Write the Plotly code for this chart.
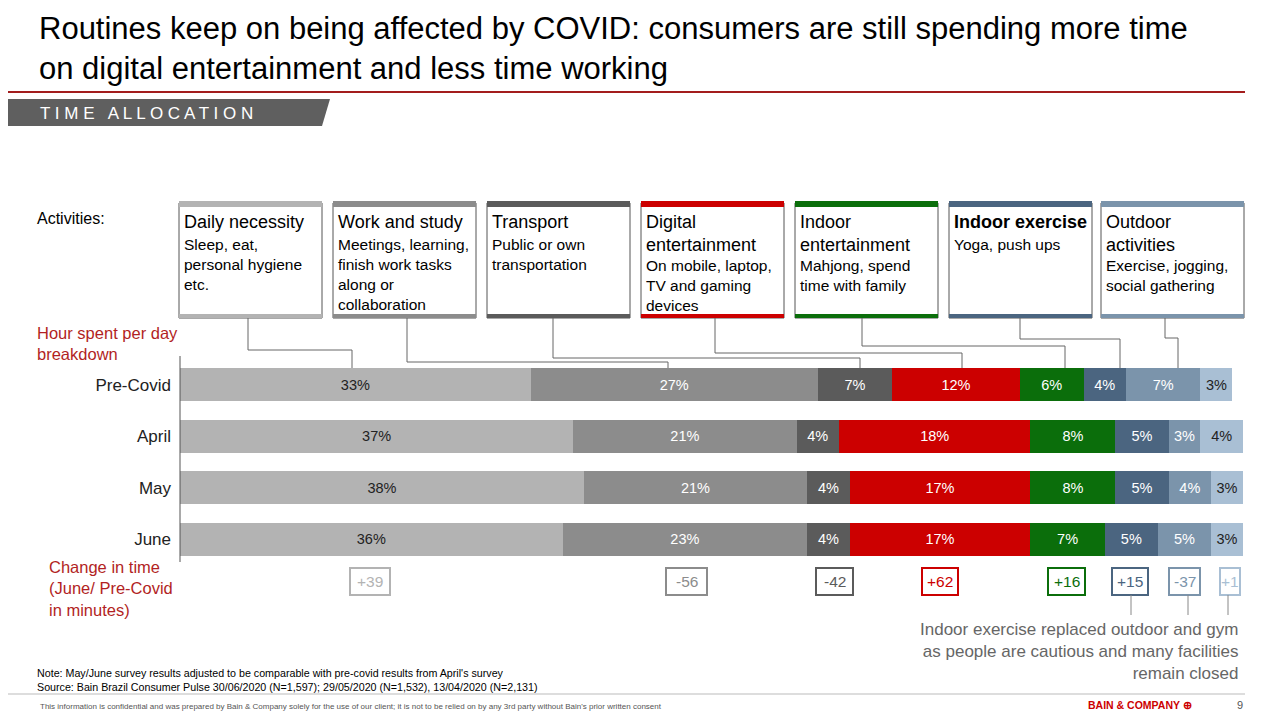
import plotly.graph_objects as go

periods = ["Pre-Covid", "April", "May", "June"]
categories = ["Daily necessity", "Work and study", "Transport", "Digital entertainment",
              "Indoor entertainment", "Indoor exercise", "Outdoor activities", "Other"]
daily_necessity = [33, 37, 38, 36]
work_study = [27, 21, 21, 23]
transport = [7, 4, 4, 4]
digital_ent = [12, 18, 17, 17]
indoor_ent = [6, 8, 8, 7]
indoor_ex = [4, 5, 5, 5]
outdoor = [7, 3, 4, 5]
other = [3, 4, 3, 3]
change_minutes = ["+39", "-56", "-42", "+62", "+16", "+15", "-37", "+1"]

series = [daily_necessity, work_study, transport, digital_ent, indoor_ent, indoor_ex, outdoor, other]
colors = ["#b3b3b3", "#8c8c8c", "#5b5b5b", "#cc0000", "#0b6e0b", "#4b6580", "#7b94ab", "#a9bfd4"]
textcols = ["#222222", "white", "white", "white", "white", "white", "white", "#222222"]

box_titles = ["Daily necessity", "Work and study", "Transport", "Digital<br>entertainment",
              "Indoor<br>entertainment", "<b>Indoor exercise</b>", "Outdoor<br>activities"]
box_subs = ["Sleep, eat,<br>personal hygiene<br>etc.",
            "Meetings, learning,<br>finish work tasks<br>along or<br>collaboration",
            "Public or own<br>transportation",
            "On mobile, laptop,<br>TV and gaming<br>devices",
            "Mahjong, spend<br>time with family",
            "Yoga, push ups",
            "Exercise, jogging,<br>social gathering"]

W, H = 1264, 704
OFF = 8
def X(px): return (px - OFF) / W
def Y(py): return 1 - (py - OFF) / H

FONT = "Liberation Sans, Arial, sans-serif"
fig = go.Figure()
for name, vals, c, tc in zip(categories, series, colors, textcols):
    fig.add_trace(go.Bar(
        y=periods, x=vals, name=name, orientation="h", marker=dict(color=c, line=dict(width=0)),
        text=[f"{v}%" for v in vals], textposition="inside", insidetextanchor="middle",
        textangle=0, textfont=dict(color=tc, size=14.5, family=FONT), width=0.64,
        hoverinfo="skip"))

shapes, ann = [], []
def line(x0, y0, x1, y1, color="#666", w=1):
    shapes.append(dict(type="line", xref="paper", yref="paper", x0=X(x0), y0=Y(y0),
                       x1=X(x1), y1=Y(y1), line=dict(color=color, width=w)))
def rect(x0, y0, x1, y1, fill=None, lc=None, lw=1):
    shapes.append(dict(type="rect", xref="paper", yref="paper", x0=X(x0), y0=Y(y0), x1=X(x1), y1=Y(y1),
                       fillcolor=fill or "rgba(0,0,0,0)", line=dict(color=lc or "rgba(0,0,0,0)", width=lw if lc else 0)))
def text(px, py, s, size=14, color="#000", xa="left", ya="top", **kw):
    ann.append(dict(xref="paper", yref="paper", x=X(px), y=Y(py), text=s, showarrow=False,
                    xanchor=xa, yanchor=ya, align=xa if xa != "center" else "center",
                    font=dict(size=size, color=color, family=FONT), **kw))

# Title
text(37, 9, "Routines keep on being affected by COVID: consumers are still spending more time<br>on digital entertainment and less time working", size=31)
line(0, 92, 1245, 92, "#a31d1d", 2)
shapes.append(dict(type="path", xref="paper", yref="paper",
                   path=f"M {X(0)} {Y(99)} L {X(330)} {Y(99)} L {X(322)} {Y(126)} L {X(0)} {Y(126)} Z",
                   fillcolor="#5f5f5f", line=dict(width=0)))
text(38, 102, "T I M E   A L L O C A T I O N", size=17, color="white")

# Boxes
box_x = [179, 333, 487, 641, 795, 949, 1101]
for i, x0 in enumerate(box_x):
    x1 = x0 + 143
    rect(x0, 203, x1, 318, fill="white", lc="#555", lw=1)
    rect(x0, 201, x1, 207, fill=colors[i])
    rect(x0, 314, x1, 318, fill=colors[i])
    tl = box_titles[i].count("<br>") + 1
    text(x0 + 3, 210, box_titles[i], size=18)
    text(x0 + 3, 212 + 21 * tl + 1, box_subs[i], size=15.5)

# Connectors
conn = [(248, 350, 352), (407, 362, 668), (553, 358, 860), (715, 353, 962),
        (862, 346, 1065), (1020, 339, 1120), (1165, 338, 1178)]
for bx, hy, tx in conn:
    line(bx, 318, bx, hy)
    line(bx, hy, tx, hy)
    line(tx, hy, tx, 368)
line(180, 356, 180, 562, "#555", 1)

# Left labels
text(35, 208, "Activities:", size=16)
text(35, 322, "Hour spent per day<br>breakdown", size=16.5, color="#b21f24")
text(47, 556, "Change in time<br>(June/ Pre-Covid<br>in minutes)", size=16.5, color="#b21f24")

# Change boxes
cb = [(350, 390), (666, 707), (816, 853), (922, 958), (1048, 1085), (1112, 1148), (1169, 1200), (1220, 1240)]
for (x0, x1), s, c in zip(cb, change_minutes, colors):
    rect(x0, 568, x1, 595, fill="white", lc=c, lw=2)
    text((x0 + x1) / 2, 581.5, s, size=15.5, color=c, xa="center", ya="middle")
for xx in (1131, 1188, 1228):
    line(xx, 595, xx, 615, "#888")
text(1240, 618, "Indoor exercise replaced outdoor and gym<br>as people are cautious and many facilities<br>remain closed",
     size=17, color="#666", xa="right")

# Footer
text(35, 665, "Note: May/June survey results adjusted to be comparable with pre-covid results from April's survey<br>Source: Bain Brazil Consumer Pulse 30/06/2020 (N=1,597); 29/05/2020 (N=1,532), 13/04/2020 (N=2,131)", size=10.7)
line(0, 694, 1245, 694, "#bbb", 1)
text(38, 706, "This information is confidential and was prepared by Bain & Company solely for the use of our client; it is not to be relied on by any 3rd party without Bain's prior written consent",
     size=8, color="#555", ya="middle")
text(1194, 705, "<b>BAIN & COMPANY ⊕</b>", size=10.5, color="#cc0000", xa="right", ya="middle")
text(1240, 705, "9", size=11, color="#555", xa="center", ya="middle")

fig.update_layout(
    width=W, height=H, margin=dict(l=0, r=0, t=0, b=0), barmode="stack",
    plot_bgcolor="white", paper_bgcolor="white", showlegend=False, bargap=0.36,
    xaxis=dict(domain=[X(180), X(1243)], range=[0, 100], visible=False, fixedrange=True),
    yaxis=dict(domain=[Y(565), Y(359)], autorange="reversed", showline=False, ticks="",
               tickfont=dict(size=17, color="#222", family=FONT), ticklabelstandoff=8),
    shapes=shapes, annotations=ann, font=dict(family=FONT),
    uniformtext=dict(minsize=10, mode="show"),
)
fig.write_html("out.html")
